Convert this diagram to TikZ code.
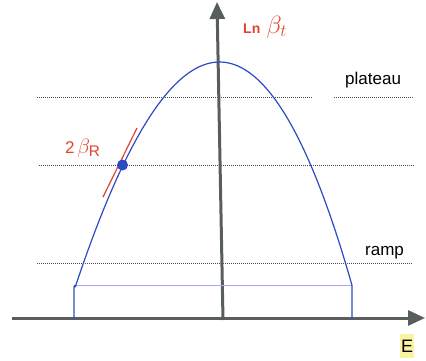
\documentclass[tikz,border=0pt]{standalone}
\usepackage{amsmath}
\usepackage{fontspec}
\setmainfont{Liberation Sans}
\usetikzlibrary{arrows.meta}

\definecolor{axisgray}{RGB}{88,94,94}
\definecolor{curveblue}{RGB}{45,75,190}
\definecolor{lblred}{RGB}{226,66,46}
\definecolor{markyellow}{RGB}{250,243,160}

\begin{document}
\begin{tikzpicture}[x=1pt, y=-1pt, every node/.style={inner sep=0pt},
  axis/.style={draw=axisgray, line width=3pt, -{Triangle[length=17pt,width=15pt]}},
  level/.style={draw=black!70, line width=0.9pt, dash pattern=on 1pt off 1pt},
  curve/.style={draw=curveblue, line width=1.2pt},
  lbl/.style={font=\fontsize{17}{20}\selectfont, anchor=base west}]
\useasboundingbox (0,0) rectangle (426,360);
% dotted levels
\draw[level] (37,97) -- (313,97); \draw[level] (334,97) -- (413,97);
\draw[level] (39,165) -- (415,165);
\draw[level] (37,263) -- (413,263);
% axes
\coordinate (o) at (223,320); \coordinate (top) at (217,2);
\coordinate (xl) at (12,318); \coordinate (xr) at (425,318);
\draw[axis] (xl) -- (xr);
\draw[axis] (o) -- (top);
% curve
\draw[blue!35, line width=0.6pt] (76,285) -- (352,285);
\draw[curve] (74,318) -- (74,287) -- plot[domain=-1:1, samples=80] ({219.5-5.6*\x*\x+138*\x}, {62+223*\x*\x}) -- (352,287) -- (352,318);
\fill[curveblue] (75,286) circle (1.5pt);
\draw[lblred, line width=1.2pt] (103,197) -- (137,128);
\fill[curveblue] (122.5,165) circle (5.5pt);
% labels
\node[lbl] (plateau) at (345,84) {plateau};
\node[lbl] (ramp) at (365,255) {ramp};
\node[lbl, text=lblred, font=\fontsize{23}{26}\selectfont] (lnbeta) at (243,33) {{\fontsize{14}{16}\selectfont\bfseries Ln} $\beta_t$};
\node[lbl, text=lblred] (twobeta) at (65,153) {2\,{\fontsize{22}{24}\selectfont$\beta_{\text{R}}$}};
\node[fill=markyellow, minimum width=14pt, minimum height=24pt, font=\fontsize{18}{20}\selectfont] (e) at (407,346) {E};
\end{tikzpicture}
\end{document}
